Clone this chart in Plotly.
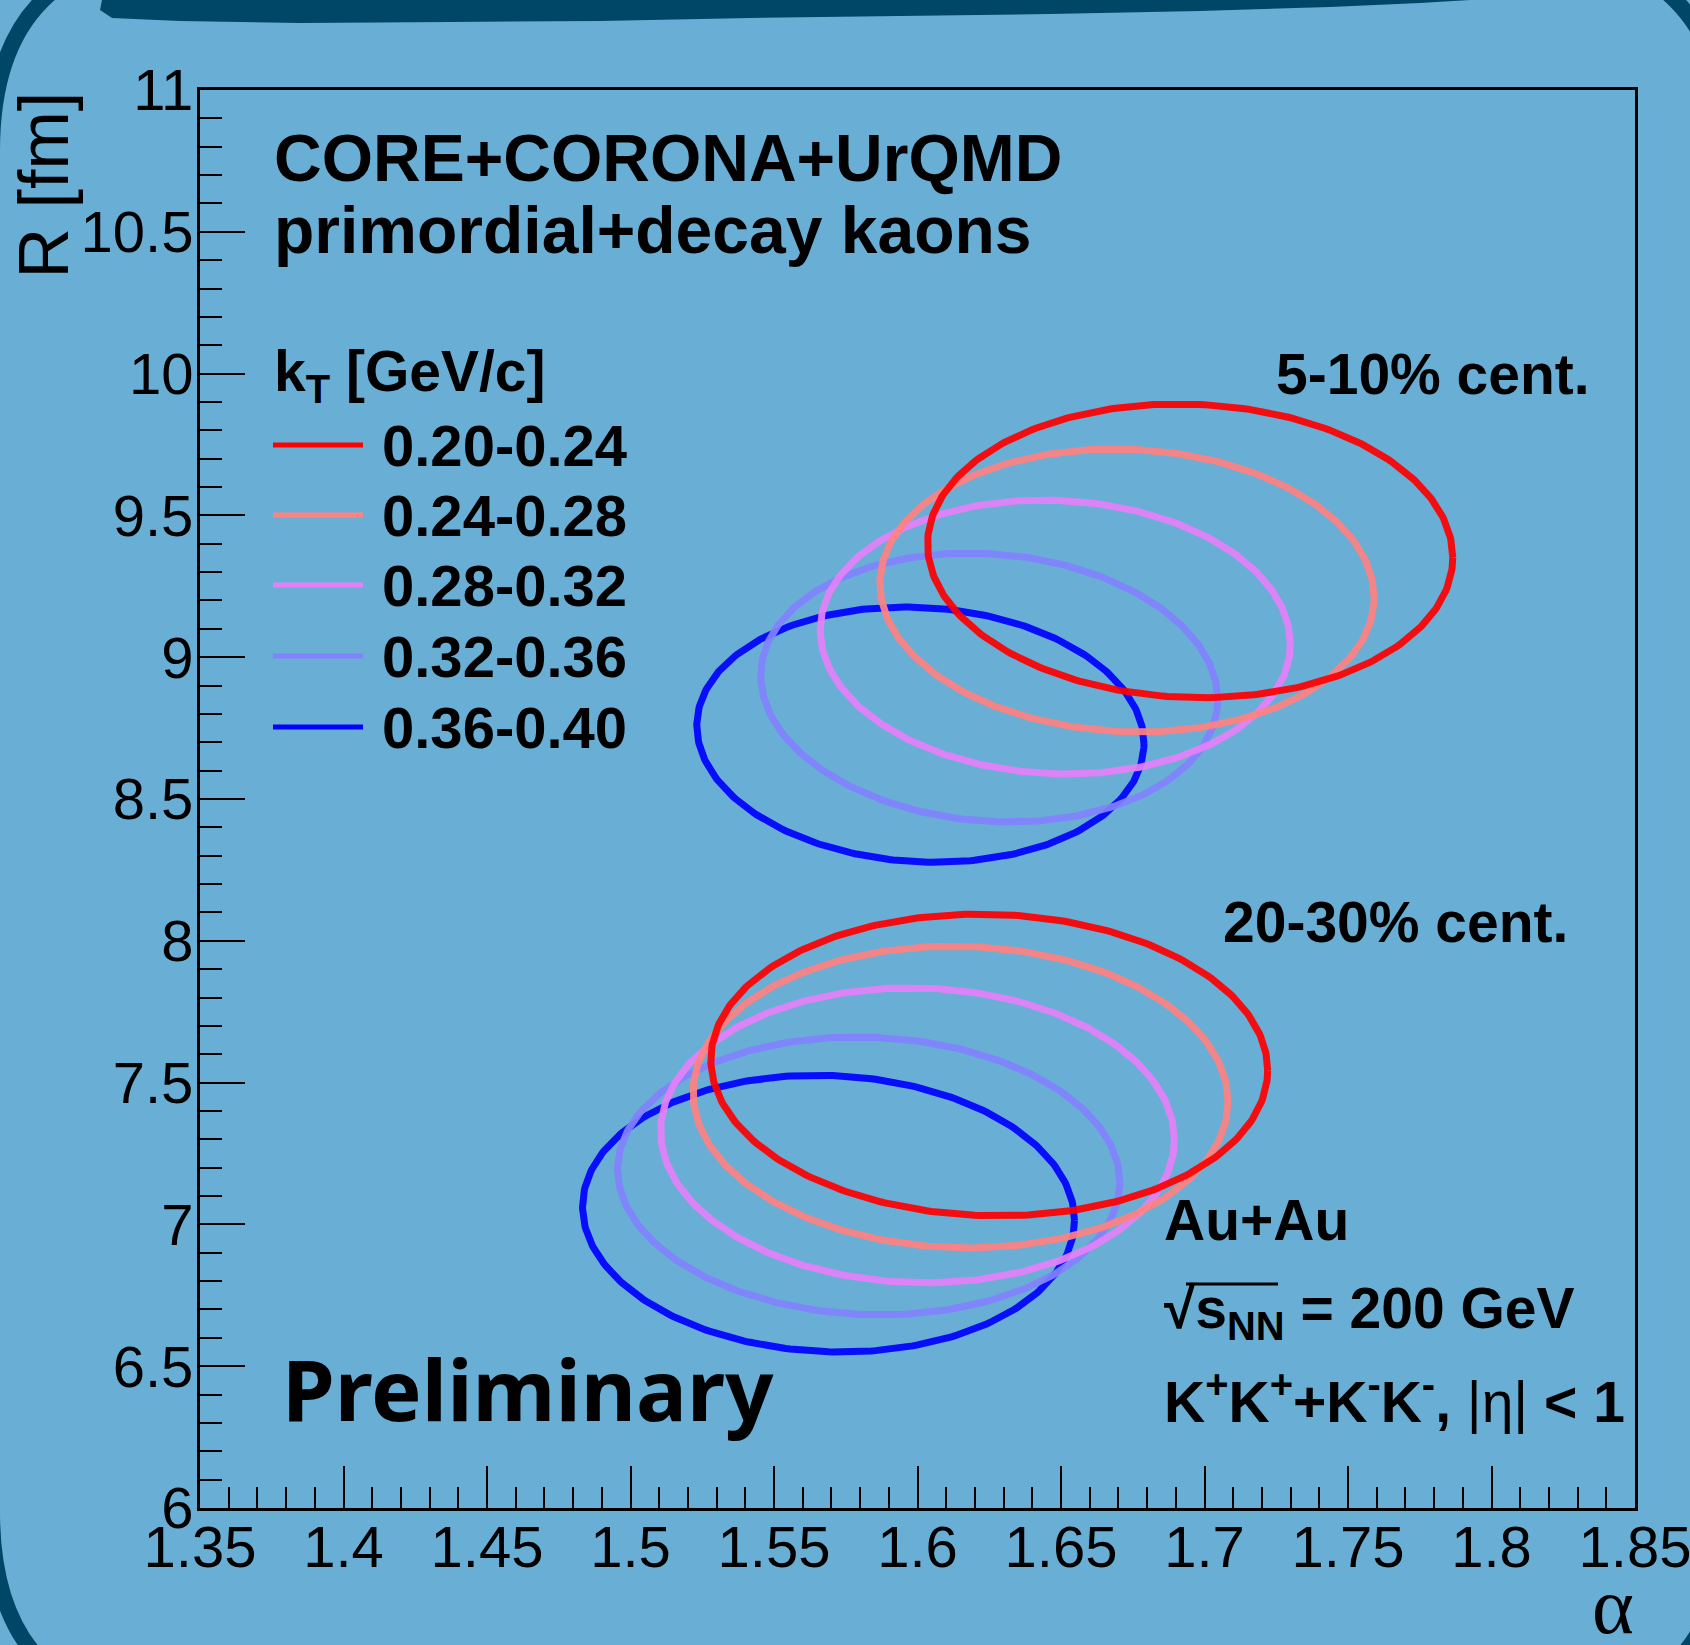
import numpy as np
import plotly.graph_objects as go

# ---------------- data ----------------
kt_bins = ["0.20-0.24", "0.24-0.28", "0.28-0.32", "0.32-0.36", "0.36-0.40"]
kt_colors = ["#ff0000", "#ff8282", "#e680fa", "#8282ff", "#0000ff"]

# 5-10% centrality: contour centre, half-extent in alpha and R, correlation
alpha_c_5_10 = [1.695, 1.673, 1.648, 1.625, 1.601]
R_c_5_10 = [9.375, 9.235, 9.071, 8.893, 8.727]
alpha_w_5_10 = [0.0915, 0.0861, 0.0819, 0.0796, 0.0779]
R_w_5_10 = [0.518, 0.499, 0.483, 0.474, 0.450]
rho_5_10 = [-0.045, -0.05, -0.05, -0.09, -0.07]

# 20-30% centrality
alpha_c_20_30 = [1.625, 1.615, 1.600, 1.583, 1.569]
R_c_20_30 = [7.562, 7.449, 7.314, 7.171, 7.038]
alpha_w_20_30 = [0.0970, 0.0932, 0.0895, 0.0875, 0.0857]
R_w_20_30 = [0.532, 0.532, 0.520, 0.490, 0.488]
rho_20_30 = [-0.035, -0.03, -0.03, -0.047, -0.05]

x_tick_vals = [1.35, 1.40, 1.45, 1.50, 1.55, 1.60, 1.65, 1.70, 1.75, 1.80, 1.85]
x_tick_text = ["1.35", "1.4", "1.45", "1.5", "1.55", "1.6", "1.65", "1.7", "1.75", "1.8", "1.85"]
y_tick_vals = [6, 6.5, 7, 7.5, 8, 8.5, 9, 9.5, 10, 10.5, 11]
y_tick_text = ["6", "6.5", "7", "7.5", "8", "8.5", "9", "9.5", "10", "10.5", "11"]

# ---------------- layout geometry (pixels) ----------------
W, H = 1690, 1645
L, R_, T, B = 200, 1635, 90, 1508


def px(X):
    return (X - L) / (R_ - L)


def py(Y):
    return (B - Y) / (B - T)


BG = "#69afd5"
NAVY = "#004666"
SANS = "Liberation Sans, Arial, sans-serif"

fig = go.Figure()

t = np.linspace(0, 2 * np.pi, 361)


def contour(cx, cy, sx, sy, rho):
    x = cx + sx * np.cos(t)
    y = cy + sy * (rho * np.cos(t) + np.sqrt(1 - rho ** 2) * np.sin(t))
    return x, y


for i in reversed(range(len(kt_bins))):
    for cxs, cys, sxs, sys_, rhos in [
        (alpha_c_5_10, R_c_5_10, alpha_w_5_10, R_w_5_10, rho_5_10),
        (alpha_c_20_30, R_c_20_30, alpha_w_20_30, R_w_20_30, rho_20_30),
    ]:
        x, y = contour(cxs[i], cys[i], sxs[i], sys_[i], rhos[i])
        fig.add_trace(go.Scatter(
            x=x, y=y, mode="lines", name=kt_bins[i],
            line=dict(color=kt_colors[i], width=7),
            opacity=0.92, showlegend=False, hoverinfo="skip",
        ))

shapes = []
# rounded dark frame of the slide
l0, r0, t0, b0, rad = -8, 1726, -49, 1712, 200
path = (f"M {px(l0 + rad)},{py(t0)} L {px(r0 - rad)},{py(t0)} "
        f"Q {px(r0)},{py(t0)} {px(r0)},{py(t0 + rad)} "
        f"L {px(r0)},{py(b0 - rad)} Q {px(r0)},{py(b0)} {px(r0 - rad)},{py(b0)} "
        f"L {px(l0 + rad)},{py(b0)} Q {px(l0)},{py(b0)} {px(l0)},{py(b0 - rad)} "
        f"L {px(l0)},{py(t0 + rad)} Q {px(l0)},{py(t0)} {px(l0 + rad)},{py(t0)} Z")
shapes.append(dict(type="path", xref="paper", yref="paper", path=path,
                   line=dict(color=NAVY, width=16), layer="below"))
# top banner
banner_pts = [(102, 0), (100, 10), (112, 18), (180, 21), (300, 23), (450, 22), (600, 21),
              (750, 18), (900, 16), (1050, 14), (1200, 11), (1330, 7), (1420, 3), (1470, 0)]
bp = "M " + " L ".join(f"{px(a)},{py(b)}" for a, b in banner_pts) + " Z"
shapes.append(dict(type="path", xref="paper", yref="paper", path=bp,
                   fillcolor=NAVY, line=dict(width=0), layer="below"))

annotations = []


def text(s, X, Y, size, xanchor="left", yanchor="middle", weight="bold", family=SANS, angle=0):
    annotations.append(dict(text=s, x=px(X), y=py(Y), xref="paper", yref="paper",
                            xanchor=xanchor, yanchor=yanchor, showarrow=False,
                            textangle=angle,
                            font=dict(family=family, size=size, color="black", weight=weight)))


text("CORE+CORONA+UrQMD", 272, 158, 66)
text("primordial+decay kaons", 272, 230, 66)
text("k<sub>T</sub> [GeV/c]", 272, 375, 57)

legend_y = [445, 515, 585, 656, 727]
for i, lab in enumerate(kt_bins):
    shapes.append(dict(type="line", xref="paper", yref="paper",
                       x0=px(273), x1=px(363), y0=py(legend_y[i]), y1=py(legend_y[i]),
                       line=dict(color=kt_colors[i], width=5)))
    text(lab, 380, legend_y[i], 58)

text("5-10% cent.", 1592, 374, 57, xanchor="right")
text("20-30% cent.", 1570, 922, 57, xanchor="right")
text("Au+Au", 1162, 1220, 57)
text("√s<sub>NN</sub> = 200 GeV", 1162, 1312, 57)
# overline of the square root
shapes.append(dict(type="line", xref="paper", yref="paper",
                   x0=px(1186), x1=px(1278), y0=py(1284), y1=py(1284),
                   line=dict(color="black", width=3)))
text("K<sup>+</sup>K<sup>+</sup>+K<sup>-</sup>K<sup>-</sup>, <span style='font-weight:normal'>|η|</span> &lt; 1",
     1162, 1398, 57)
text("Preliminary", 280, 1388, 85, family="Noto Sans, sans-serif")

# axis titles
text("R [fm]", 43, 90, 70, xanchor="center", yanchor="top", weight="normal", angle=-90)
text("α", 1636, 1606, 80, xanchor="right", weight="normal", family="Liberation Serif, serif")

axis_common = dict(ticks="inside", tickwidth=2, tickcolor="black", showline=True,
                   linecolor="black", linewidth=3, mirror=True, showgrid=False,
                   zeroline=False, ticklabeloverflow="allow", automargin=False,
                   tickfont=dict(family=SANS, size=58, color="black"))

fig.update_xaxes(range=[1.35, 1.85], tickvals=x_tick_vals, ticktext=x_tick_text, ticklen=42,
                 ticklabelstandoff=-14,
                 minor=dict(dtick=0.01, tick0=1.35, ticklen=21, tickwidth=2, tickcolor="black",
                            ticks="inside", showgrid=False),
                 **axis_common)
fig.update_yaxes(range=[6, 11], tickvals=y_tick_vals, ticktext=y_tick_text, ticklen=45,
                 ticklabelstandoff=-8,
                 minor=dict(dtick=0.1, tick0=6, ticklen=22, tickwidth=2, tickcolor="black",
                            ticks="inside", showgrid=False),
                 **axis_common)

fig.update_layout(
    width=W, height=H, autosize=False,
    margin=dict(l=L, r=W - R_, t=T, b=H - B, pad=0, autoexpand=False),
    paper_bgcolor=BG, plot_bgcolor="rgba(0,0,0,0)",
    shapes=shapes, annotations=annotations, showlegend=False,
)

fig.write_html("out.html")
